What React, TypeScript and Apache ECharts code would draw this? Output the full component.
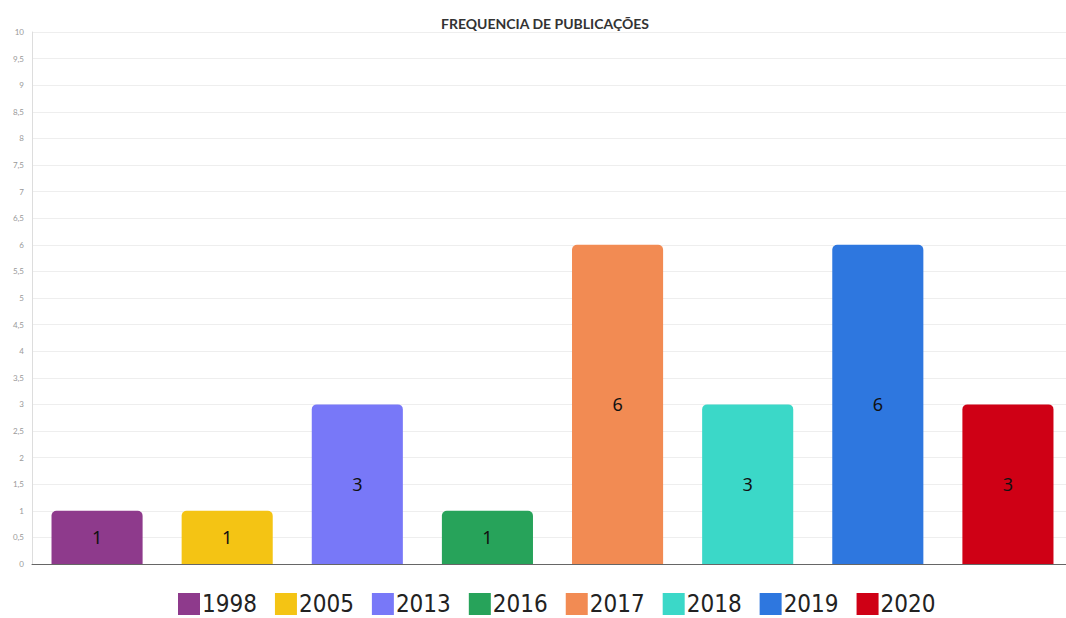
import React, { useEffect, useRef } from "react";
import * as echarts from "echarts";

const categories = ["1998", "2005", "2013", "2016", "2017", "2018", "2019", "2020"];
const values = [1, 1, 3, 1, 6, 3, 6, 3];
const colors = ["#8e3a8c", "#f4c414", "#7878f8", "#27a35a", "#f28b53", "#3bd8c8", "#2e77df", "#cf0015"];

export default function App() {
  const ref = useRef<HTMLDivElement>(null);
  useEffect(() => {
    const chart = echarts.init(ref.current!, null, { renderer: "svg" });
    const series = categories.map((c, i) => ({
      name: c,
      type: "bar",
      stack: "total",
      barWidth: "70%",
      itemStyle: { color: colors[i], borderRadius: [5, 5, 0, 0] },
      label: {
        show: true,
        position: "inside",
        color: "#111",
        fontSize: 18,
        fontFamily: "Noto Sans",
      },
      data: categories.map((_, j) => (j === i ? values[i] : null)),
    }));
    chart.setOption({
      animation: false,
      title: {
        text: "FREQUENCIA DE PUBLICAÇÕES",
        left: 540,
        textAlign: "center",
        top: 11,
        textStyle: { fontFamily: "Lato", fontSize: 14, fontWeight: "bold", color: "#333" },
      },
      legend: {
        top: 592,
        left: 178,
        padding: 0,
        itemWidth: 22,
        itemHeight: 22,
        itemGap: 18,
        icon: "rect",
        textStyle: {
          fontFamily: "DejaVu Sans Condensed, Liberation Sans",
          fontSize: 24,
          lineHeight: 24,
          color: "#222",
          padding: [0, 0, 0, -3],
        },
        data: categories,
      },
      grid: { left: 32, top: 32, bottom: 54, width: 1041 },
      xAxis: {
        type: "category",
        data: categories,
        axisLine: { lineStyle: { color: "#666" } },
        axisTick: { show: false },
        axisLabel: { show: false },
      },
      yAxis: {
        type: "value",
        min: 0,
        max: 10,
        interval: 0.5,
        axisLine: { show: true, lineStyle: { color: "#ddd" } },
        axisTick: { show: false },
        axisLabel: {
          fontSize: 8,
          color: "#999",
          fontFamily: "Lato",
          margin: 8,
          formatter: (v: number) => String(v).replace(".", ","),
        },
        splitLine: { lineStyle: { color: "#eee" } },
      },
      series,
    });
    return () => chart.dispose();
  }, []);
  return (
    <div style={{ width: 1066, height: 618, position: "absolute", left: 0, top: 0, overflow: "hidden" }}>
      <div ref={ref} style={{ width: 1080, height: 618 }} />
    </div>
  );
}
